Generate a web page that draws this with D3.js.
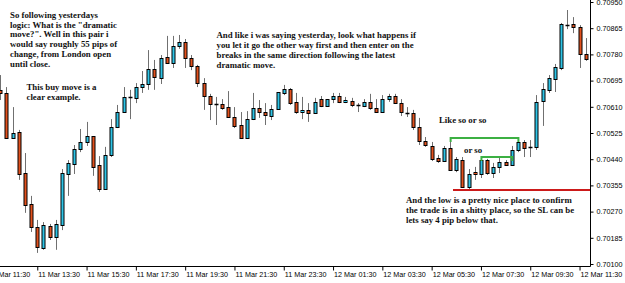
<!DOCTYPE html>
<html>
<head>
<meta charset="utf-8">
<script src="https://cdn.jsdelivr.net/npm/d3@7"></script>
<style>
  html, body { margin: 0; padding: 0; background: #fff; }
  svg { display: block; }
</style>
</head>
<body>
<svg id="chart"></svg>
<script>
// 15 minute candles, 11 Mar 12:00 -> 12 Mar 11:45
const START_TIME = "11 Mar 12:00";
const opens = [
  0.70665, 0.70655, 0.70509, 0.70528, 0.70395, 0.70295, 0.70220, 0.70152, 0.70223, 0.70188,
  0.70227, 0.70392, 0.70424, 0.70473, 0.70496, 0.70515, 0.70421, 0.70343, 0.70454, 0.70545,
  0.70593, 0.70642, 0.70639, 0.70674, 0.70684, 0.70733, 0.70703, 0.70772, 0.70752, 0.70807,
  0.70820, 0.70768, 0.70742, 0.70687, 0.70645, 0.70619, 0.70619, 0.70609, 0.70577, 0.70551,
  0.70509, 0.70570, 0.70606, 0.70593, 0.70580, 0.70603, 0.70655, 0.70668, 0.70626, 0.70593,
  0.70600, 0.70590, 0.70635, 0.70613, 0.70635, 0.70645, 0.70626, 0.70629, 0.70616, 0.70613,
  0.70626, 0.70606, 0.70593, 0.70635, 0.70645, 0.70622, 0.70593, 0.70590, 0.70545, 0.70499,
  0.70483, 0.70444, 0.70434, 0.70476, 0.70405, 0.70437, 0.70350, 0.70398, 0.70392, 0.70437,
  0.70395, 0.70415, 0.70431, 0.70421, 0.70470, 0.70496, 0.70480, 0.70480, 0.70629, 0.70665,
  0.70700, 0.70736, 0.70875, 0.70879, 0.70869, 0.70781
];
const highs = [
  0.70713, 0.70674, 0.70609, 0.70535, 0.70460, 0.70321, 0.70243, 0.70236, 0.70230, 0.70243,
  0.70408, 0.70437, 0.70486, 0.70538, 0.70561, 0.70515, 0.70450, 0.70480, 0.70570, 0.70616,
  0.70674, 0.70665, 0.70687, 0.70726, 0.70794, 0.70762, 0.70778, 0.70840, 0.70840, 0.70843,
  0.70830, 0.70778, 0.70746, 0.70703, 0.70652, 0.70642, 0.70635, 0.70661, 0.70609, 0.70593,
  0.70596, 0.70655, 0.70632, 0.70622, 0.70616, 0.70658, 0.70681, 0.70671, 0.70655, 0.70642,
  0.70622, 0.70639, 0.70645, 0.70635, 0.70655, 0.70655, 0.70642, 0.70639, 0.70622, 0.70635,
  0.70652, 0.70635, 0.70648, 0.70652, 0.70652, 0.70635, 0.70609, 0.70600, 0.70574, 0.70512,
  0.70496, 0.70454, 0.70483, 0.70509, 0.70447, 0.70447, 0.70408, 0.70415, 0.70447, 0.70441,
  0.70428, 0.70444, 0.70437, 0.70483, 0.70509, 0.70502, 0.70502, 0.70648, 0.70687, 0.70713,
  0.70749, 0.70882, 0.70924, 0.70901, 0.70875, 0.70833
];
const lows = [
  0.70632, 0.70509, 0.70509, 0.70373, 0.70266, 0.70204, 0.70136, 0.70146, 0.70178, 0.70146,
  0.70210, 0.70321, 0.70392, 0.70463, 0.70483, 0.70386, 0.70334, 0.70343, 0.70447, 0.70541,
  0.70593, 0.70570, 0.70622, 0.70655, 0.70665, 0.70665, 0.70684, 0.70749, 0.70736, 0.70798,
  0.70736, 0.70729, 0.70674, 0.70600, 0.70567, 0.70551, 0.70600, 0.70574, 0.70541, 0.70509,
  0.70509, 0.70567, 0.70574, 0.70551, 0.70567, 0.70603, 0.70648, 0.70616, 0.70587, 0.70570,
  0.70561, 0.70587, 0.70609, 0.70613, 0.70622, 0.70622, 0.70622, 0.70609, 0.70593, 0.70609,
  0.70600, 0.70590, 0.70593, 0.70626, 0.70619, 0.70580, 0.70577, 0.70535, 0.70486, 0.70480,
  0.70434, 0.70428, 0.70434, 0.70402, 0.70398, 0.70347, 0.70343, 0.70373, 0.70379, 0.70389,
  0.70379, 0.70395, 0.70418, 0.70421, 0.70463, 0.70447, 0.70447, 0.70470, 0.70548, 0.70655,
  0.70658, 0.70729, 0.70862, 0.70849, 0.70736, 0.70759
];
const closes = [
  0.70655, 0.70509, 0.70525, 0.70392, 0.70292, 0.70220, 0.70155, 0.70227, 0.70188, 0.70230,
  0.70395, 0.70428, 0.70473, 0.70496, 0.70515, 0.70415, 0.70343, 0.70454, 0.70545, 0.70593,
  0.70642, 0.70642, 0.70674, 0.70684, 0.70733, 0.70707, 0.70768, 0.70752, 0.70807, 0.70820,
  0.70768, 0.70742, 0.70687, 0.70645, 0.70619, 0.70619, 0.70606, 0.70577, 0.70548, 0.70509,
  0.70570, 0.70606, 0.70593, 0.70583, 0.70603, 0.70658, 0.70668, 0.70622, 0.70593, 0.70600,
  0.70590, 0.70626, 0.70613, 0.70635, 0.70645, 0.70626, 0.70632, 0.70616, 0.70616, 0.70626,
  0.70606, 0.70593, 0.70635, 0.70645, 0.70622, 0.70593, 0.70590, 0.70545, 0.70499, 0.70486,
  0.70441, 0.70434, 0.70476, 0.70405, 0.70441, 0.70350, 0.70392, 0.70392, 0.70437, 0.70395,
  0.70415, 0.70431, 0.70421, 0.70470, 0.70496, 0.70476, 0.70480, 0.70626, 0.70668, 0.70703,
  0.70739, 0.70879, 0.70875, 0.70869, 0.70781, 0.70765
];

const priceTicks = [0.70100, 0.70185, 0.70270, 0.70355, 0.70440, 0.70525, 0.70610, 0.70695, 0.70780, 0.70865, 0.70950];
const timeTicks = [
  "11 Mar 11:30", "11 Mar 13:30", "11 Mar 15:30", "11 Mar 17:30", "11 Mar 19:30", "11 Mar 21:30",
  "11 Mar 23:30", "12 Mar 01:30", "12 Mar 03:30", "12 Mar 05:30", "12 Mar 07:30", "12 Mar 09:30", "12 Mar 11:30"
];

// green breakout lines and red stop line
const greenLines = [
  { from: "12 Mar 06:15", to: "12 Mar 09:00", price: 0.70509 },
  { from: "12 Mar 07:30", to: "12 Mar 08:45", price: 0.70447 }
];
const stopLine = { from: "12 Mar 06:22", price: 0.70340 };

const notes = [
  { x: 10, y: 18, dy: 9.7, lines: [
    "So following yesterdays",
    "logic: What is the \"dramatic",
    "move?\". Well in this pair i",
    "would say roughly 55 pips of",
    "change, from London open",
    "until close."] },
  { x: 26.5, y: 90, dy: 10, lines: ["This buy move is a", "clear example."] },
  { x: 216.5, y: 37.5, dy: 10.3, lines: [
    "And like i was saying yesterday, look what happens if",
    "you let it go the other way first and then enter on the",
    "breaks in the same direction following the latest",
    "dramatic move."] },
  { x: 439, y: 122.5, dy: 10, lines: ["Like so or so"] },
  { x: 464, y: 153, dy: 10, lines: ["or so"] },
  { x: 406, y: 202.5, dy: 10, lines: [
    "And the low is a pretty nice place to confirm",
    "the trade is in a shitty place, so the SL can be",
    "lets say 4 pip below that."] }
];

const WIDTH = 625;
const HEIGHT = 283;
const PLOT_RIGHT = 590.5;
const PLOT_BOTTOM = 266.5;

const BULL_COLOR = '#2ec4e6';
const BEAR_COLOR = '#e2511d';
const WICK_COLOR = '#707070';
const GREEN = '#3cb043';
const RED = '#cc1a1a';

const parseTime = d3.timeParse('%d %b %H:%M');
const t0 = parseTime(START_TIME);
const candles = opens.map((o, i) => ({
  time: d3.timeMinute.offset(t0, i * 15),
  open: o, high: highs[i], low: lows[i], close: closes[i]
}));

const svg = d3.select('#chart')
  .attr('width', WIDTH)
  .attr('height', HEIGHT);

svg.append('rect').attr('width', WIDTH).attr('height', HEIGHT).attr('fill', '#fff');

const x = d3.scaleTime()
  .domain([candles[0].time, candles[candles.length - 1].time])
  .range([0.3, 585.7]);

const y = d3.scaleLinear()
  .domain([0.70100, 0.70950])
  .range([264, 2]);

const plot = svg.append('g');

// wicks
plot.selectAll('.wick')
  .data(candles)
  .enter()
  .append('line')
  .attr('class', 'wick')
  .attr('x1', d => Math.round(x(d.time)) + 0.5)
  .attr('x2', d => Math.round(x(d.time)) + 0.5)
  .attr('y1', d => y(d.high))
  .attr('y2', d => y(d.low))
  .attr('stroke', WICK_COLOR)
  .attr('stroke-width', 1);

// bodies
plot.selectAll('.body')
  .data(candles.filter(d => Math.abs(y(d.open) - y(d.close)) >= 1.5))
  .enter()
  .append('rect')
  .attr('class', 'body')
  .attr('x', d => Math.round(x(d.time)) - 1)
  .attr('y', d => Math.round(y(Math.max(d.open, d.close))) + 0.5)
  .attr('width', 3)
  .attr('height', d => Math.max(1, Math.round(Math.abs(y(d.open) - y(d.close)))))
  .attr('fill', d => d.close > d.open ? BULL_COLOR : BEAR_COLOR)
  .attr('stroke', '#000')
  .attr('stroke-width', 1);

// dojis
plot.selectAll('.doji')
  .data(candles.filter(d => Math.abs(y(d.open) - y(d.close)) < 1.5))
  .enter()
  .append('line')
  .attr('class', 'doji')
  .attr('x1', d => Math.round(x(d.time)) - 1.5)
  .attr('x2', d => Math.round(x(d.time)) + 2.5)
  .attr('y1', d => Math.round(y(d.close)) + 0.5)
  .attr('y2', d => Math.round(y(d.close)) + 0.5)
  .attr('stroke', '#000')
  .attr('stroke-width', 1.5);

// green lines
greenLines.forEach(g => {
  const x1 = x(parseTime(g.from)) + 0.5;
  const x2 = x(parseTime(g.to)) + 0.5;
  const yy = y(g.price);
  plot.append('path')
    .attr('d', `M${x1},${yy + 4}V${yy}H${x2}V${yy + 4}`)
    .attr('fill', 'none')
    .attr('stroke', GREEN)
    .attr('stroke-width', 2);
});

// red stop line
plot.append('line')
  .attr('x1', x(parseTime(stopLine.from)))
  .attr('x2', PLOT_RIGHT)
  .attr('y1', y(stopLine.price))
  .attr('y2', y(stopLine.price))
  .attr('stroke', RED)
  .attr('stroke-width', 2);

// axis frame
svg.append('line')
  .attr('x1', PLOT_RIGHT).attr('x2', PLOT_RIGHT)
  .attr('y1', 0).attr('y2', PLOT_BOTTOM)
  .attr('stroke', '#000');
svg.append('line')
  .attr('x1', 0).attr('x2', PLOT_RIGHT)
  .attr('y1', PLOT_BOTTOM).attr('y2', PLOT_BOTTOM)
  .attr('stroke', '#000');

const yAxis = svg.append('g')
  .attr('transform', `translate(${PLOT_RIGHT},0)`)
  .call(d3.axisRight(y)
    .tickValues(priceTicks)
    .tickFormat(d3.format('.5f'))
    .tickSize(3)
    .tickSizeOuter(0)
    .tickPadding(3));
yAxis.select('.domain').remove();

const xAxis = svg.append('g')
  .attr('transform', `translate(0,${PLOT_BOTTOM})`)
  .call(d3.axisBottom(x)
    .tickValues(timeTicks.map(parseTime))
    .tickFormat(d3.timeFormat('%d %b %H:%M'))
    .tickSize(4)
    .tickSizeOuter(0));
xAxis.select('.domain').remove();
xAxis.selectAll('.tick text')
  .attr('text-anchor', 'start')
  .attr('x', 0.5)
  .attr('y', 5)
  .attr('dy', '0.71em');

svg.selectAll('.tick text')
  .style('font-family', '"Liberation Sans", Arial, sans-serif')
  .style('font-size', '7.2px')
  .style('fill', '#000');
svg.selectAll('.tick line').attr('stroke', '#000');

// annotations
notes.forEach(n => {
  const t = svg.append('text')
    .attr('x', n.x)
    .attr('y', n.y)
    .style('font-family', '"Liberation Serif", "Times New Roman", serif')
    .style('font-weight', '700')
    .style('font-size', '8.8px')
    .style('fill', '#111');
  n.lines.forEach((line, i) => {
    t.append('tspan')
      .attr('x', n.x)
      .attr('y', n.y + i * n.dy)
      .text(line);
  });
});
</script>
</body>
</html>
